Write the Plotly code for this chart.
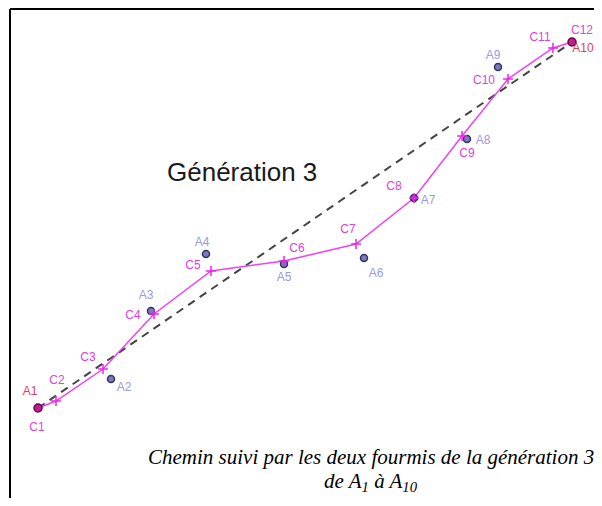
import plotly.graph_objects as go

W, H = 602, 506
PAGE_OFF = 8  # default page margin of the html body

# Ant positions A1..A10 (x, y measured from the top-left of the picture)
a_names = ["A1", "A2", "A3", "A4", "A5", "A6", "A7", "A8", "A9", "A10"]
a_x = [38, 111, 151, 206, 284, 364, 414, 467, 498, 572]
a_y = [408, 379, 311, 254, 264, 258, 198, 139, 67, 42]

# Path points C1..C12
c_names = ["C1", "C2", "C3", "C4", "C5", "C6", "C7", "C8", "C9", "C10", "C11", "C12"]
c_x = [38, 56, 103, 154, 211, 284, 356, 414, 462, 508, 553, 572]
c_y = [408, 401, 369, 314, 271, 261, 244, 198, 136, 79, 48, 42]

# Label offsets (dx, dy) from each point
a_off = [(-8, -16), (13, 9), (-5, -15), (-4, -11), (0, 14), (12, 16), (14, 3), (16, 2), (-5, -11), (11, 7)]
c_off = [(-1, 20), (1, -20), (-15, -11), (-21, 2), (-18, -5), (13, -12), (-8, -14), (-20, -11), (5, 18), (-24, 2), (-13, -10), (10, -11)]

title_txt = "Génération 3"
caption1 = "Chemin suivi par les deux fourmis de la génération 3"
caption2 = "de A<sub>1</sub> à A<sub>10</sub>"

def fy(v):
    return H - v

fig = go.Figure()

# straight dashed line from A1 to A10
fig.add_trace(go.Scatter(
    x=[a_x[0], a_x[-1]], y=[fy(a_y[0]), fy(a_y[-1])], mode="lines",
    line=dict(color="#454545", width=2, dash="8px,6px"), hoverinfo="skip"))

# path C1..C12
fig.add_trace(go.Scatter(
    x=c_x, y=[fy(v) for v in c_y], mode="lines",
    line=dict(color="#f040f0", width=1.5), hoverinfo="skip"))

# intermediate A points
mid = list(range(1, 9))
a_fill = ["#b030b0" if a_names[i] == "A7" else "#7a7ac0" for i in mid]
fig.add_trace(go.Scatter(
    x=[a_x[i] for i in mid], y=[fy(a_y[i]) for i in mid], mode="markers",
    marker=dict(symbol="circle", size=7, color=a_fill,
                line=dict(color="#33335f", width=1.5)), hoverinfo="skip"))

# C crosses (C2..C11)
fig.add_trace(go.Scatter(
    x=c_x[1:-1], y=[fy(v) for v in c_y[1:-1]], mode="markers",
    marker=dict(symbol="cross-thin", size=7, line=dict(color="#f020f0", width=1.5)),
    hoverinfo="skip"))

# endpoints A1 / A10
fig.add_trace(go.Scatter(
    x=[a_x[0], a_x[-1]], y=[fy(a_y[0]), fy(a_y[-1])], mode="markers",
    marker=dict(symbol="circle", size=8, color="#c0208c",
                line=dict(color="#6a0050", width=1.5)), hoverinfo="skip"))

# labels
a_col = ["#e0405a" if n in ("A1", "A10") else "#9a9ae6" for n in a_names]
fig.add_trace(go.Scatter(
    x=[a_x[i] + a_off[i][0] for i in range(len(a_names))],
    y=[fy(a_y[i] + a_off[i][1]) for i in range(len(a_names))],
    mode="text", text=a_names,
    textfont=dict(family="Liberation Sans, Arial", size=12, color=a_col),
    hoverinfo="skip", cliponaxis=False))
fig.add_trace(go.Scatter(
    x=[c_x[i] + c_off[i][0] for i in range(len(c_names))],
    y=[fy(c_y[i] + c_off[i][1]) for i in range(len(c_names))],
    mode="text", text=c_names,
    textfont=dict(family="Liberation Sans, Arial", size=12, color="#e040e0"),
    hoverinfo="skip", cliponaxis=False))

fig.add_annotation(x=242, y=fy(172), text=title_txt, showarrow=False,
                   font=dict(family="Liberation Sans, Arial", size=26, color="#1a1a1a"))
fig.add_annotation(x=371, y=fy(457), text="<i>" + caption1 + "</i>", showarrow=False,
                   font=dict(family="Liberation Serif, Times New Roman", size=21, color="#000000"))
fig.add_annotation(x=371, y=fy(482), text="<i>" + caption2 + "</i>", showarrow=False,
                   font=dict(family="Liberation Serif, Times New Roman", size=21, color="#000000"))

# frame lines (left and top)
fig.add_shape(type="line", x0=10, x1=10, y0=fy(PAGE_OFF + 1), y1=fy(H + 20),
              line=dict(color="black", width=2))
fig.add_shape(type="line", x0=10, x1=W + 20, y0=fy(PAGE_OFF + 1), y1=fy(PAGE_OFF + 1),
              line=dict(color="black", width=2))

fig.update_layout(
    width=W - PAGE_OFF, height=H - 2 * PAGE_OFF, margin=dict(l=0, r=0, t=0, b=0),
    paper_bgcolor="white", plot_bgcolor="white", showlegend=False,
    xaxis=dict(range=[PAGE_OFF, W], visible=False, fixedrange=True),
    yaxis=dict(range=[PAGE_OFF, H - PAGE_OFF], visible=False, fixedrange=True),
)

fig.write_html("out.html")
